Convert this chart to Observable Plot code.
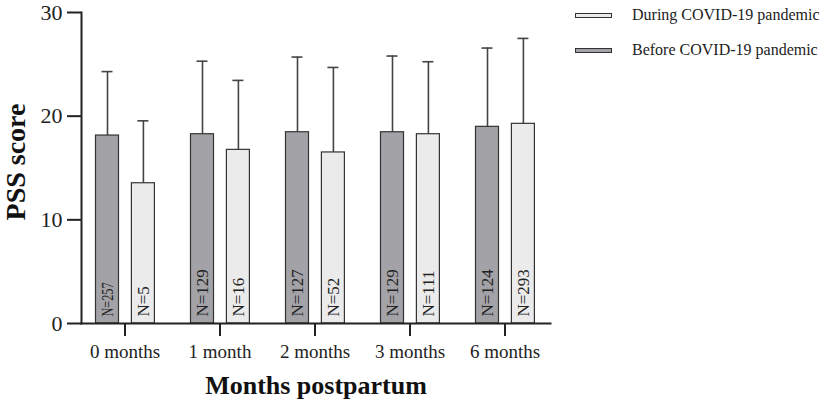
<!DOCTYPE html>
<html>
<head>
<meta charset="utf-8">
<script src="https://cdn.jsdelivr.net/npm/d3@7"></script>
<script src="https://cdn.jsdelivr.net/npm/@observablehq/plot@0.6"></script>
<style>
  html, body { margin: 0; padding: 0; background: #fff; }
  #wrap { position: relative; width: 829px; height: 409px; font-family: "Liberation Serif", "Times New Roman", serif; }
  .legend { position: absolute; left: 0; top: 0; }
  .item { position: absolute; display: flex; align-items: center; font-size: 16px; color: #222; white-space: nowrap; }
  .sw { width: 35px; height: 3px; border: 1px solid #333; margin-right: 20px; }
</style>
</head>
<body>
<div id="wrap"></div>
<script>
const months = ["0 months", "1 month", "2 months", "3 months", "6 months"];
const groups = ["Before COVID-19 pandemic", "During COVID-19 pandemic"];
const beforeMean = [18.13, 18.26, 18.45, 18.45, 18.97];
const beforeSD   = [6.17, 7.04, 7.25, 7.35, 7.6];
const beforeN    = [257, 129, 127, 129, 124];
const duringMean = [13.53, 16.75, 16.5, 18.26, 19.26];
const duringSD   = [6.02, 6.7, 8.2, 6.99, 8.24];
const duringN    = [5, 16, 52, 111, 293];
const yTicks = [0, 10, 20, 30];
const colors = {"Before COVID-19 pandemic": "#a3a2a7", "During COVID-19 pandemic": "#ebebeb"};

const before = months.map((m, i) => ({month: m, group: groups[0], mean: beforeMean[i], sd: beforeSD[i], n: beforeN[i]}));
const during = months.map((m, i) => ({month: m, group: groups[1], mean: duringMean[i], sd: duringSD[i], n: duringN[i]}));

const font = '"Liberation Serif", "Times New Roman", serif';
const dB = -17.5, dD = 18.4;

function series(rows, dx) {
  return [
    Plot.ruleX(rows, {x: "month", y1: "mean", y2: d => d.mean + d.sd, dx, stroke: "#444", strokeWidth: 1.6}),
    Plot.tickY(rows, {x: "month", y: d => d.mean + d.sd, dx, insetLeft: 42, insetRight: 42, stroke: "#444", strokeWidth: 1.6}),
    Plot.barY(rows, {x: "month", y: "mean", dx, insetLeft: 36, insetRight: 36, fill: d => colors[d.group], stroke: "#333", strokeWidth: 1.2}),
    Plot.text(rows, {x: "month", y: d => 0, text: d => "N=" + d.n, rotate: -90, textAnchor: "start", dx, dy: -7, fontSize: 17, fill: "#222"})
  ];
}

const chart = Plot.plot({
  width: 829,
  height: 409,
  marginLeft: 81,
  marginRight: 279,
  marginTop: 12,
  marginBottom: 86,
  style: {fontFamily: font, background: "#fff", color: "#222", overflow: "visible"},
  x: {type: "band", domain: months, range: [74.9, 554.4], padding: 0, axis: null},
  y: {domain: [0, 30], axis: null},
  marks: [
    ...series(before, dB),
    ...series(during, dD),
    Plot.axisY({ticks: yTicks, tickSize: 14, tickPadding: 5, fontSize: 22, strokeWidth: 2, label: null}),
    Plot.axisX({tickSize: 13, tickPadding: 8, fontSize: 19, strokeWidth: 2, label: null}),
    Plot.frame({anchor: "left", strokeWidth: 2, stroke: "#222"}),
    Plot.frame({anchor: "bottom", strokeWidth: 2, stroke: "#222"}),
    Plot.text(["Months postpartum"], {frameAnchor: "bottom", textAnchor: "middle", lineAnchor: "middle", dy: 62, fontSize: 26, fontWeight: "bold", fill: "#111"}),
    Plot.text(["PSS score"], {frameAnchor: "left", textAnchor: "middle", lineAnchor: "middle", rotate: -90, dx: -65, dy: -6, fontSize: 28, fontWeight: "bold", fill: "#111"})
  ]
});

const wrap = document.getElementById("wrap");
wrap.appendChild(chart);

// compress the narrow N=257 label as in the reference
d3.select(chart).selectAll("text").filter(function() { return this.textContent === "N=257"; })
  .attr("textLength", 34).attr("lengthAdjust", "spacingAndGlyphs");

// legend (During on top, Before below)
const legend = document.createElement("div");
legend.className = "legend";
const legendOrder = [groups[1], groups[0]];
legendOrder.forEach((g, i) => {
  const item = document.createElement("div");
  item.className = "item";
  item.style.left = "575px";
  item.style.top = (5 + i * 35) + "px";
  item.style.height = "20px";
  const sw = document.createElement("div");
  sw.className = "sw";
  sw.style.background = colors[g];
  const label = document.createElement("span");
  label.textContent = g;
  item.appendChild(sw);
  item.appendChild(label);
  legend.appendChild(item);
});
wrap.appendChild(legend);
</script>
</body>
</html>
